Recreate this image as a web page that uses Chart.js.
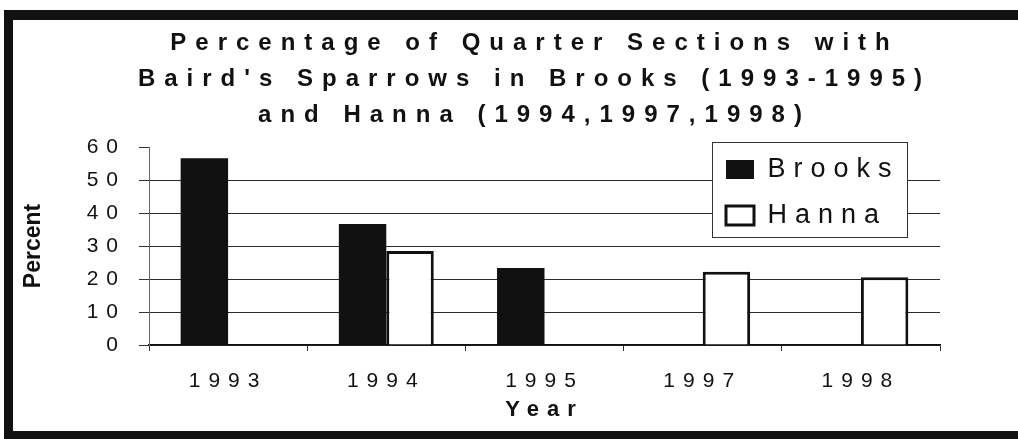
<!DOCTYPE html>
<html>
<head>
<meta charset="utf-8">
<title>Baird's Sparrows</title>
<script src="https://cdn.jsdelivr.net/npm/chart.js@4.4.1/dist/chart.umd.min.js"></script>
<style>
    html, body { margin: 0; padding: 0; background: #fff; }
    .frame {
        position: absolute;
        left: 4px;
        top: 10px;
        width: 1005px;
        height: 411px;
        border-top: 10px solid #111;
        border-left: 9px solid #111;
        border-bottom: 8px solid #111;
        background: #fff;
    }
    canvas { display: block; }
</style>
</head>
<body>
<div class="frame">
    <canvas id="sparrowChart" width="1005" height="411"></canvas>
</div>
<script>
// --- DATA ---
const years = ['1993', '1994', '1995', '1997', '1998'];
const brooks = [56.6, 36.7, 23.3, null, null];
const hanna = [null, 28.5, null, 22.2, 20.5];
const titleLines = [
    'Percentage of Quarter Sections with',
    "Baird's Sparrows in Brooks (1993-1995)",
    'and Hanna (1994,1997,1998)'
];

// the scanned chart has very wide letter spacing -> pick canvas letterSpacing by font size
const SPACING = { 23: '0px', 24: '9px' };
function spaceLetters(ctx) {
    const fontProp = Object.getOwnPropertyDescriptor(CanvasRenderingContext2D.prototype, 'font');
    Object.defineProperty(ctx, 'font', {
        configurable: true,
        get() { return fontProp.get.call(this); },
        set(v) {
            fontProp.set.call(this, v);
            const m = /(\d+)px/.exec(v);
            this.letterSpacing = (m && SPACING[m[1]]) || '8px';
        }
    });
}

// legend sits inside the plot with a white framed box
const legendBox = { x: 699, y: 122, w: 195, h: 95 };

const layoutTweaks = {
    id: 'layoutTweaks',
    afterLayout(chart) {
        const t = chart.titleBlock;
        t.left += 58;
        t.right += 58;
        const lg = chart.legend;
        lg.left = 694;
        lg.right = 894;
        lg.top = 117;
        lg.bottom = 320;
    },
    afterDatasetsDraw(chart) {
        const ctx = chart.ctx;
        ctx.save();
        ctx.fillStyle = '#fff';
        ctx.strokeStyle = '#333';
        ctx.lineWidth = 1;
        ctx.fillRect(legendBox.x + 0.5, legendBox.y + 0.5, legendBox.w, legendBox.h);
        ctx.strokeRect(legendBox.x + 0.5, legendBox.y + 0.5, legendBox.w, legendBox.h);
        ctx.restore();
        chart.legend.draw();
    }
};

Chart.defaults.font.family = '"Liberation Sans", Arial, sans-serif';
Chart.defaults.color = '#111';

const canvas = document.getElementById('sparrowChart');
const ctx = canvas.getContext('2d');
spaceLetters(ctx);

new Chart(ctx, {
    type: 'bar',
    data: {
        labels: years,
        datasets: [
            {
                label: 'Brooks',
                data: brooks,
                backgroundColor: '#111',
                borderColor: '#111',
                borderWidth: 0
            },
            {
                label: 'Hanna',
                data: hanna,
                backgroundColor: '#fff',
                borderColor: '#111',
                borderWidth: 3
            }
        ]
    },
    options: {
        responsive: false,
        animation: false,
        categoryPercentage: 0.6,
        barPercentage: 1.0,
        layout: { padding: { left: 0, right: 78, top: 0, bottom: 0 } },
        plugins: {
            title: {
                display: true,
                text: titleLines,
                color: '#111',
                font: { size: 24, weight: 'bold', lineHeight: 1.5 },
                padding: { top: 5, bottom: 14 }
            },
            legend: {
                position: 'chartArea',
                align: 'start',
                labels: {
                    boxWidth: 28,
                    boxHeight: 19,
                    padding: 19,
                    color: '#111',
                    font: { size: 27 }
                }
            },
            tooltip: { enabled: false }
        },
        scales: {
            x: {
                offset: true,
                grid: {
                    offset: true,
                    drawOnChartArea: false,
                    tickLength: 6,
                    tickColor: '#333'
                },
                border: { display: true, color: '#111', width: 1.5 },
                ticks: { font: { size: 21 }, padding: 18, color: '#111' },
                title: {
                    display: true,
                    text: 'Year',
                    color: '#111',
                    font: { size: 22, weight: 'bold' },
                    padding: { top: 0, bottom: 8 }
                },
                afterFit(scale) { scale.height = 86; }
            },
            y: {
                min: 0,
                max: 60,
                ticks: { stepSize: 10, font: { size: 21 }, padding: 13, color: '#111' },
                grid: {
                    color: (c) => (c.tick && c.tick.value === 60) ? 'rgba(0,0,0,0)' : '#2a2a2a',
                    tickColor: '#333',
                    tickLength: 10,
                    lineWidth: 1
                },
                border: { display: true, color: '#666', width: 1 },
                title: {
                    display: true,
                    text: 'Percent',
                    color: '#111',
                    font: { size: 23, weight: 'bold' },
                    padding: { top: 7, bottom: 0 }
                },
                afterFit(scale) { scale.width = 136; }
            }
        }
    },
    plugins: [layoutTweaks]
});
</script>
</body>
</html>
